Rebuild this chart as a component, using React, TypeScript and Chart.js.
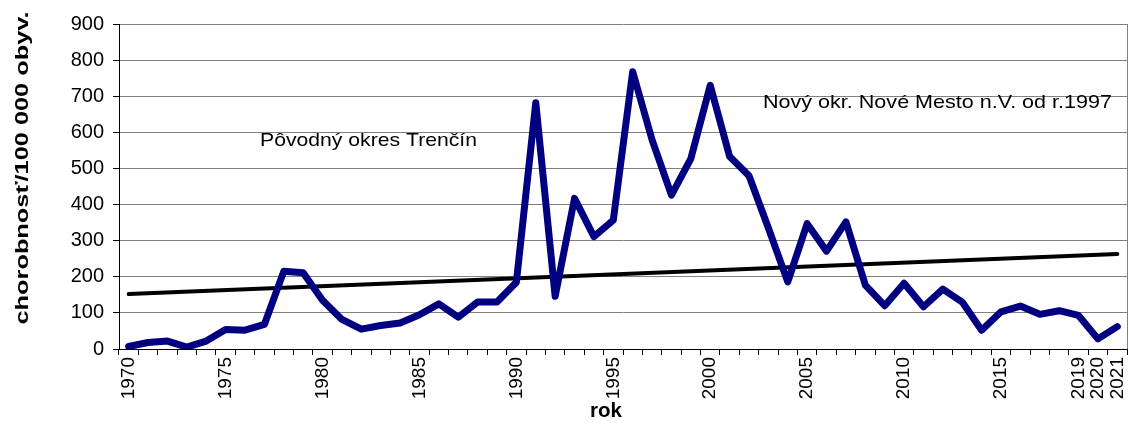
import React, { useEffect, useRef } from "react";
import { Chart, registerables } from "chart.js";

Chart.register(...registerables);

const years: string[] = [
  "1970","1971","1972","1973","1974","1975","1976","1977","1978","1979",
  "1980","1981","1982","1983","1984","1985","1986","1987","1988","1989",
  "1990","1991","1992","1993","1994","1995","1996","1997","1998","1999",
  "2000","2001","2002","2003","2004","2005","2006","2007","2008","2009",
  "2010","2011","2012","2013","2014","2015","2016","2017","2018","2019",
  "2020","2021",
];

const morbidity: number[] = [
  7, 18, 22, 5, 22, 54, 52, 68, 215, 211,
  135, 82, 55, 65, 72, 95, 125, 88, 130, 130,
  185, 682, 146, 417, 311, 357, 768, 579, 426, 527,
  730, 533, 480, 335, 186, 347, 271, 352, 177, 120,
  182, 117, 166, 130, 52, 103, 119, 96, 106, 93,
  28, 62,
];

const trendStart = 152;
const trendEnd = 263;

const shownTickLabels: string[] = [
  "1970","1975","1980","1985","1990","1995","2000","2005","2010","2015","2019","2020","2021",
];

const yTicks: number[] = [0, 100, 200, 300, 400, 500, 600, 700, 800, 900];

const yTitle = "chorobnosť/100 000 obyv.";
const xTitle = "rok";
const noteOld = "Pôvodný okres Trenčín";
const noteNew = "Nový okr. Nové Mesto n.V. od r.1997";

const FONT = '"Liberation Sans", Arial, sans-serif';

function fittedText(ctx: CanvasRenderingContext2D, text: string, x: number, y: number, width: number) {
  const w = ctx.measureText(text).width;
  ctx.save();
  ctx.translate(x, y);
  ctx.scale(width / w, 1);
  ctx.fillText(text, 0, 0);
  ctx.restore();
}

export default function App() {
  const ref = useRef<HTMLCanvasElement | null>(null);

  useEffect(() => {
    if (!ref.current) return;
    const trend: (number | null)[] = years.map((_, i) =>
      i === 0 ? trendStart : i === years.length - 1 ? trendEnd : null
    );

    const textPlugin = {
      id: "texts",
      afterDraw(chart: any) {
        const ctx = chart.ctx as CanvasRenderingContext2D;
        const ca = chart.chartArea;
        ctx.save();
        ctx.strokeStyle = "#808080";
        ctx.lineWidth = 1;
        ctx.beginPath();
        ctx.moveTo(ca.right + 0.5, ca.top);
        ctx.lineTo(ca.right + 0.5, ca.bottom);
        ctx.stroke();
        ctx.fillStyle = "#000";
        ctx.font = `19px ${FONT}`;
        ctx.textBaseline = "middle";
        ctx.textAlign = "left";
        fittedText(ctx, noteOld, 260, 141, 217);
        fittedText(ctx, noteNew, 763, 103, 349);
        ctx.font = `bold 20px ${FONT}`;
        ctx.textAlign = "center";
        fittedText(ctx, xTitle, 606, 411, 32);
        ctx.translate(23, 168);
        ctx.rotate(-Math.PI / 2);
        ctx.font = `bold 19px ${FONT}`;
        fittedText(ctx, yTitle, 0, 0, 313);
        ctx.restore();
      },
    };

    const chart = new Chart(ref.current, {
      type: "line",
      data: {
        labels: years,
        datasets: [
          {
            data: morbidity,
            borderColor: "#000080",
            borderWidth: 7,
            pointRadius: 0,
            tension: 0,
            borderJoinStyle: "round",
            borderCapStyle: "round",
          },
          {
            data: trend,
            borderColor: "#000000",
            borderWidth: 4,
            pointRadius: 0,
            spanGaps: true,
            borderCapStyle: "round",
          },
        ],
      },
      options: {
        animation: false,
        responsive: false,
        maintainAspectRatio: false,
        layout: { padding: { top: 24, right: 2, left: 0, bottom: 0 } },
        plugins: { legend: { display: false }, tooltip: { enabled: false } },
        scales: {
          x: {
            type: "category",
            offset: true,
            grid: {
              offset: true,
              drawOnChartArea: false,
              drawTicks: true,
              tickLength: 6,
              color: "#000",
            },
            border: { color: "#000", width: 1 },
            ticks: {
              autoSkip: false,
              maxRotation: 90,
              minRotation: 90,
              padding: 2,
              color: "#000",
              font: { family: FONT, size: 19 },
              callback: function (this: any, v: any) {
                const lab = years[v as number];
                return shownTickLabels.includes(lab) ? lab : "";
              },
            },
            afterFit: (s: any) => {
              s.height = 76;
              s.paddingRight = 0;
              s.paddingLeft = 0;
            },
          },
          y: {
            min: 0,
            max: 900,
            afterBuildTicks: (s: any) => {
              s.ticks = yTicks.map((v) => ({ value: v }));
            },
            grid: {
              color: "#808080",
              lineWidth: 1,
              tickLength: 6,
              tickColor: "#000",
            },
            border: { color: "#000", width: 1 },
            ticks: {
              padding: 9,
              color: "#000",
              font: { family: FONT, size: 20 },
            },
            afterFit: (s: any) => {
              s.width = 119;
              s.paddingTop = 0;
              s.paddingBottom = 0;
            },
          },
        },
      },
      plugins: [textPlugin],
    });
    return () => chart.destroy();
  }, []);

  return (
    <div style={{ position: "fixed", left: 0, top: 0, width: 1129, height: 425 }}>
      <canvas ref={ref} width={1129} height={425} style={{ width: 1129, height: 425 }} />
    </div>
  );
}
